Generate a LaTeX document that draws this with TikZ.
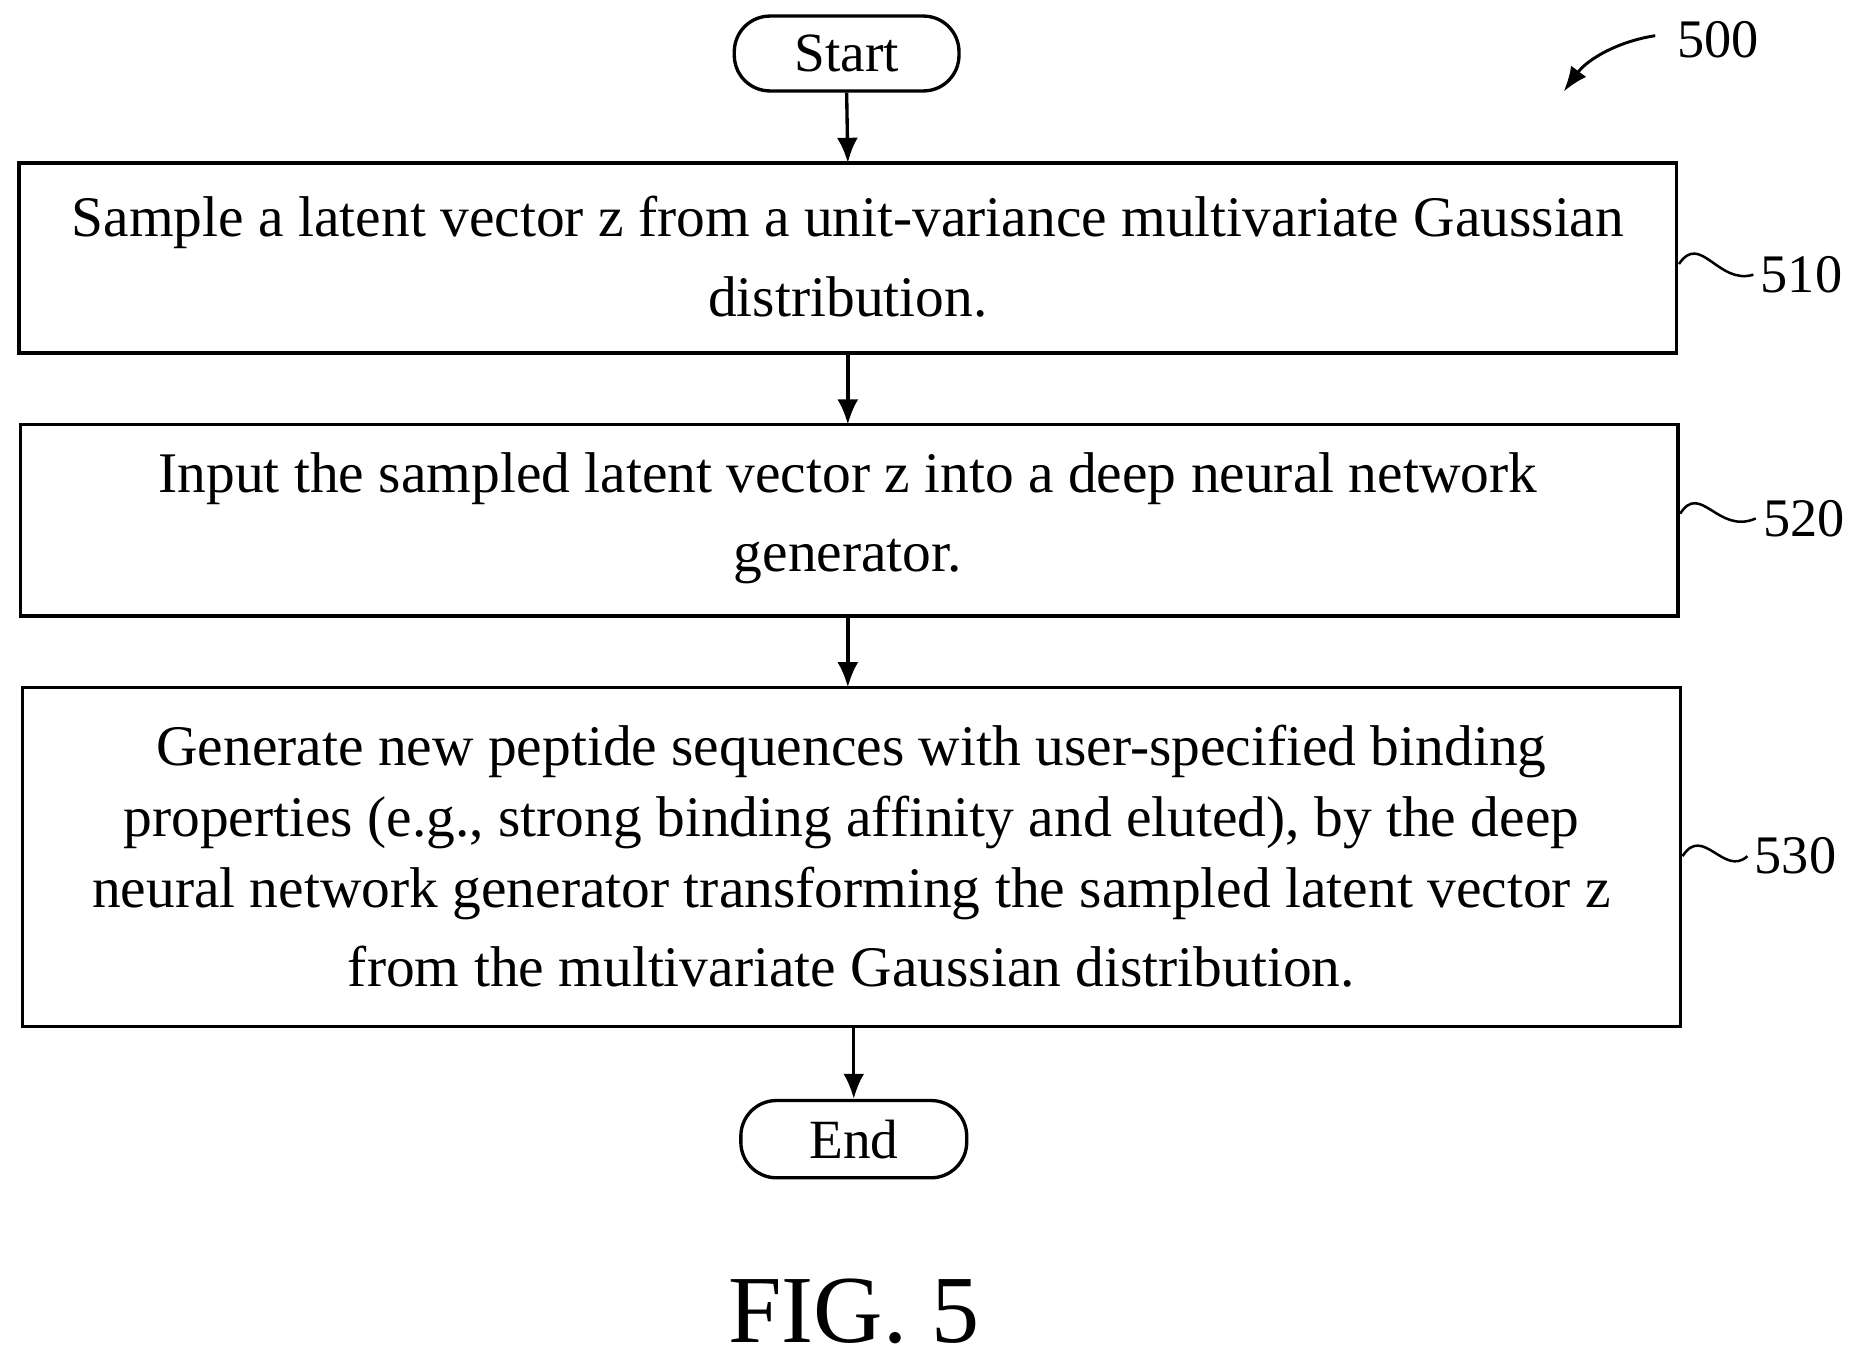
\documentclass[tikz,border=0pt]{standalone}
\usepackage{fontspec}
\usetikzlibrary{arrows.meta}
\setmainfont{Liberation Serif}
\begin{document}
\begin{tikzpicture}[x=0.02cm,y=-0.02cm,
  box/.style={draw,line width=1.6pt,inner sep=0pt},
  term/.style={draw,line width=1.6pt,rounded corners=0.6cm,inner sep=0pt,font=\fontsize{26.5}{30}\selectfont},
  txt/.style={align=center,font=\fontsize{27.5}{34}\selectfont},
  lab/.style={font=\fontsize{26}{30}\selectfont},
  arr/.style={line width=1.6pt,-{Latex[length=12pt,width=10pt]}},
  sq/.style={line width=1.2pt}]
\useasboundingbox (0,0) rectangle (1560,1145);
\node[term,minimum width=3.78cm,minimum height=1.26cm] (start) at (712,45) {Start};
\draw[box] (16,137) rectangle (1410,297);
\coordinate (b1t) at (713,137); \coordinate (b1b) at (713,297);
\node[txt] (t1) at (713,216) {Sample a latent vector z from a unit-variance multivariate Gaussian\\[4pt] distribution.};
\draw[box] (17,357) rectangle (1411,518);
\coordinate (b2t) at (713,357); \coordinate (b2b) at (713,518);
\node[txt] (t2) at (713,436) {Input the sampled latent vector z into a deep neural network\\[4pt] generator.};
\draw[box] (19,578) rectangle (1413,863);
\coordinate (b3t) at (713,578); \coordinate (b3b) at (718,863);
\node[txt] (t3) at (716,720) {Generate new peptide sequences with user-specified binding\\ properties (e.g., strong binding affinity and eluted), by the deep\\ neural network generator transforming the sampled latent vector z\\[4pt] from the multivariate Gaussian distribution.};
\node[term,minimum width=3.8cm,minimum height=1.3cm] (end) at (718,958) {End};
\draw[arr] (start.south) -- (b1t);
\draw[arr] (b1b) -- (b2t);
\draw[arr] (b2b) -- (b3t);
\draw[arr] (b3b) -- (end.north);
\node[lab] (l500) at (1445,33) {500};
\coordinate (a500) at (1315,77);
\draw[line width=1.4pt,-{Latex[length=12pt,width=9pt]}] (1392,30) .. controls (1360,35) and (1335,50) .. (a500);
\node[lab] (l510) at (1515,231) {510};
\node[lab] (l520) at (1517,436) {520};
\node[lab] (l530) at (1510,720) {530};
\draw[sq] (1412,222) .. controls (1430,195) and (1445,240) .. (l510.west);
\draw[sq] (1413,432) .. controls (1430,405) and (1445,450) .. (l520.west);
\draw[sq] (1415,720) .. controls (1432,693) and (1450,738) .. (l530.west);
\node[font=\fontsize{46}{50}\selectfont] (fig) at (718,1103) {FIG. 5};
\end{tikzpicture}
\end{document}
